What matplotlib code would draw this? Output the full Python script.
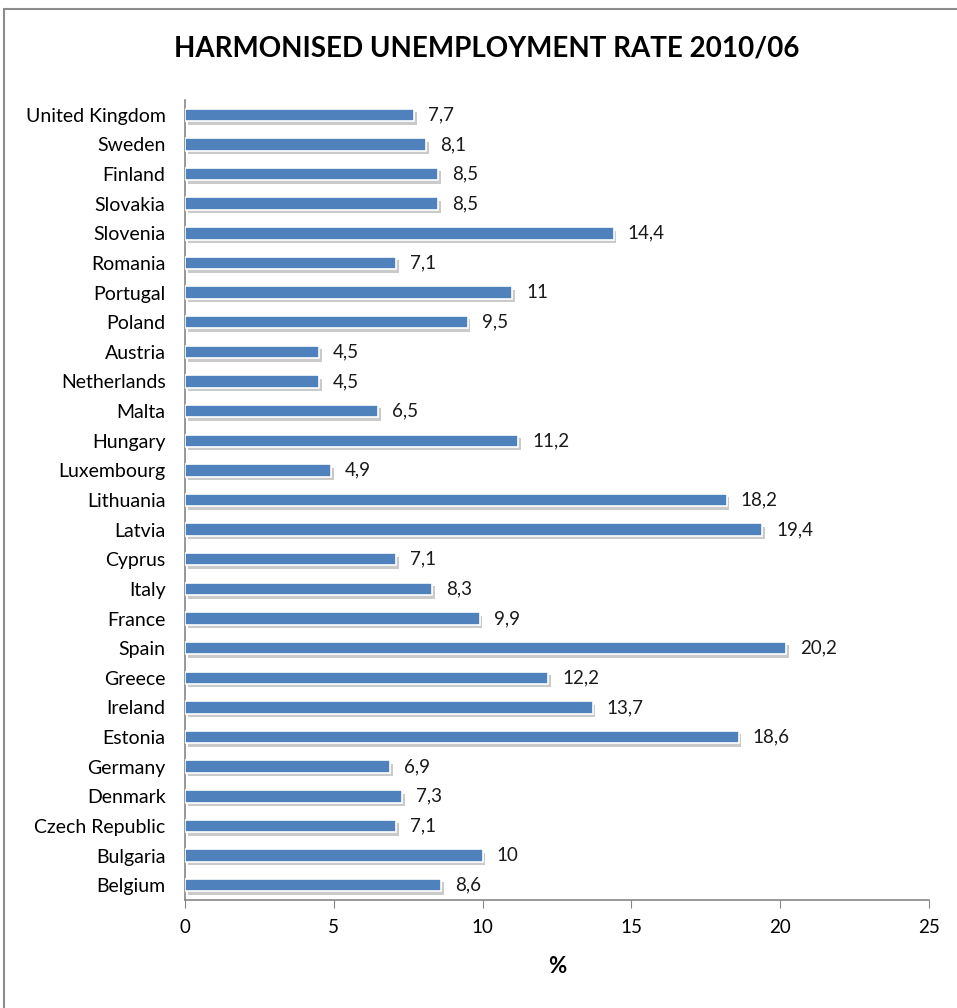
import matplotlib
matplotlib.use("Agg")
import matplotlib.pyplot as plt
import matplotlib.patheffects as pe
from matplotlib.patches import Rectangle

countries = ["Belgium", "Bulgaria", "Czech Republic", "Denmark", "Germany", "Estonia",
             "Ireland", "Greece", "Spain", "France", "Italy", "Cyprus", "Latvia",
             "Lithuania", "Luxembourg", "Hungary", "Malta", "Netherlands", "Austria",
             "Poland", "Portugal", "Romania", "Slovenia", "Slovakia", "Finland",
             "Sweden", "United Kingdom"]
rates = [8.6, 10, 7.1, 7.3, 6.9, 18.6, 13.7, 12.2, 20.2, 9.9, 8.3, 7.1, 19.4,
         18.2, 4.9, 11.2, 6.5, 4.5, 4.5, 9.5, 11, 7.1, 14.4, 8.5, 8.5, 8.1, 7.7]
x_ticks = [0, 5, 10, 15, 20, 25]
title = "HARMONISED UNEMPLOYMENT RATE 2010/06"

plt.rcParams['font.family'] = ['Lato', 'DejaVu Sans']

fig = plt.figure(figsize=(9.57, 10.08), dpi=100)
ax = fig.add_axes([185/957, 1-900/1008, (929-185)/957, (900-100)/1008])

bars = ax.barh(range(len(countries)), rates, height=0.42, color="#4F81BD",
               edgecolor="white", linewidth=1.2, zorder=3)
for b in bars:
    b.set_path_effects([pe.SimplePatchShadow(offset=(2, -2.5), shadow_rgbFace="#8a8a8a", alpha=0.45),
                        pe.Normal()])

def fmt(v):
    s = f"{v:g}"
    return s.replace(".", ",")

for i, v in enumerate(rates):
    ax.annotate(fmt(v), (v, i), xytext=(10, 0), textcoords="offset points",
                va="center", ha="left", fontsize=13.5, color="#1a1a1a")

ax.set_xlim(0, 25)
ax.set_ylim(-0.5, len(countries) - 0.5)
ax.set_xticks(x_ticks)
ax.set_xticklabels([str(t) for t in x_ticks], fontsize=13.5)
ax.set_yticks(range(len(countries)))
ax.set_yticklabels(countries, fontsize=14)
ax.tick_params(axis="y", length=0, pad=14)
ax.tick_params(axis="x", length=6, color="#868686", pad=8, direction="out")
for s in ["top", "right"]:
    ax.spines[s].set_visible(False)
for s in ["left", "bottom"]:
    ax.spines[s].set_color("#868686")
    ax.spines[s].set_linewidth(1.2)
ax.set_xlabel("%", fontsize=16, fontweight="bold", labelpad=14)

fig.text(487/957, 1 - 49/1008, title, ha="center", va="center",
         fontsize=20, fontweight="bold")

fig.patches.append(Rectangle((4/957, -0.05), 1.2, 1.05 - 9/1008, transform=fig.transFigure,
                             fill=False, edgecolor="#8c8c8c", linewidth=1.5, figure=fig))

fig.savefig("out.png", dpi=100, facecolor="white")
